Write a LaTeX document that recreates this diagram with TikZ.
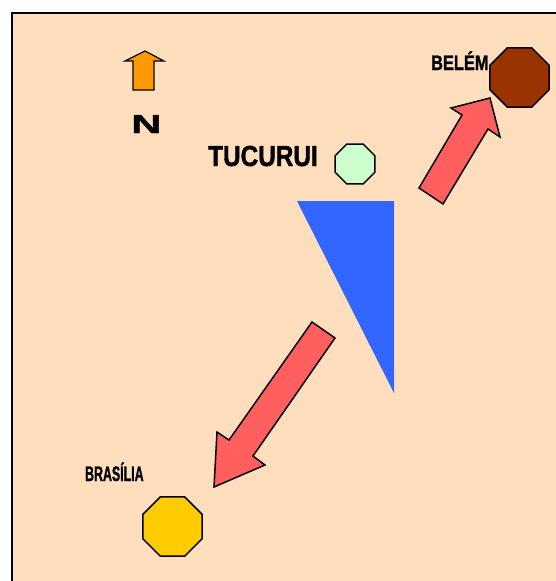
\documentclass[tikz,border=0pt]{standalone}
\usepackage{fontspec}
\setmainfont{Liberation Sans}[BoldFeatures={FakeBold=1.5}]
\usetikzlibrary{shapes.geometric}
\definecolor{bgpeach}{HTML}{FFDEBD}
\definecolor{arrowred}{HTML}{FF5F5F}
\definecolor{triblue}{HTML}{3366FF}
\definecolor{cityyellow}{HTML}{FFCC00}
\definecolor{citybrown}{HTML}{993300}
\definecolor{citygreen}{HTML}{CCFFCC}
\definecolor{northorange}{HTML}{FF9900}
\tikzset{
  city/.style={regular polygon, regular polygon sides=8, draw=black, line width=1.5pt, inner sep=0pt},
  blockarrow/.style={draw=black, line width=1.5pt, line join=miter, fill=arrowred},
  label/.style={inner sep=0pt, anchor=base west, font=\bfseries}
}
\begin{document}
\begin{tikzpicture}[x=1pt,y=-1pt]
\clip (0,0) rectangle (556,581);
\fill[white] (0,0) rectangle (556,581);
\draw[line width=2pt, fill=bgpeach] (11.5,12.5) rectangle (600,620);
% north arrow
\draw[line width=1.2pt, fill=northorange, line join=miter]
  (133,90) -- (133,61) -- (125,61) -- (145,51) -- (164,61) -- (154,61) -- (154,90) -- cycle;
\node[label, font=\bfseries\fontsize{26}{26}\selectfont, xscale=1.6] (north) at (131,133) {N};
% triangle (dam)
\fill[triblue] (297,201) -- (394,201) -- (394,393) -- cycle;
% cities
\node[city, fill=citygreen, minimum size=43pt] (tucurui) at (355,164) {};
\node[city, fill=citybrown, minimum size=64pt] (belem) at (519.5,77.5) {};
\node[city, fill=cityyellow, minimum size=64pt] (brasilia) at (172.5,526.5) {};
% labels
\node[label, font=\bfseries\fontsize{29}{29}\selectfont, xscale=0.84] (tucuruilbl) at (208,166) {TUCURUI};
\node[label, font=\bfseries\fontsize{21}{21}\selectfont, xscale=0.78] (belemlbl) at (431,70) {BELÉM};
\node[label, font=\bfseries\fontsize{21}{21}\selectfont, xscale=0.59] (brasilialbl) at (85,481) {BRASÍLIA};
% block arrows
\draw[blockarrow] (419,188) -- (462,115) -- (451,108) -- (490,98) -- (500,137) -- (488,129) -- (443,204) -- cycle;
\draw[blockarrow] (312,322) -- (335,338) -- (253,456) -- (265,465) -- (214,487) -- (217,432) -- (229,440) -- cycle;
\end{tikzpicture}
\end{document}
